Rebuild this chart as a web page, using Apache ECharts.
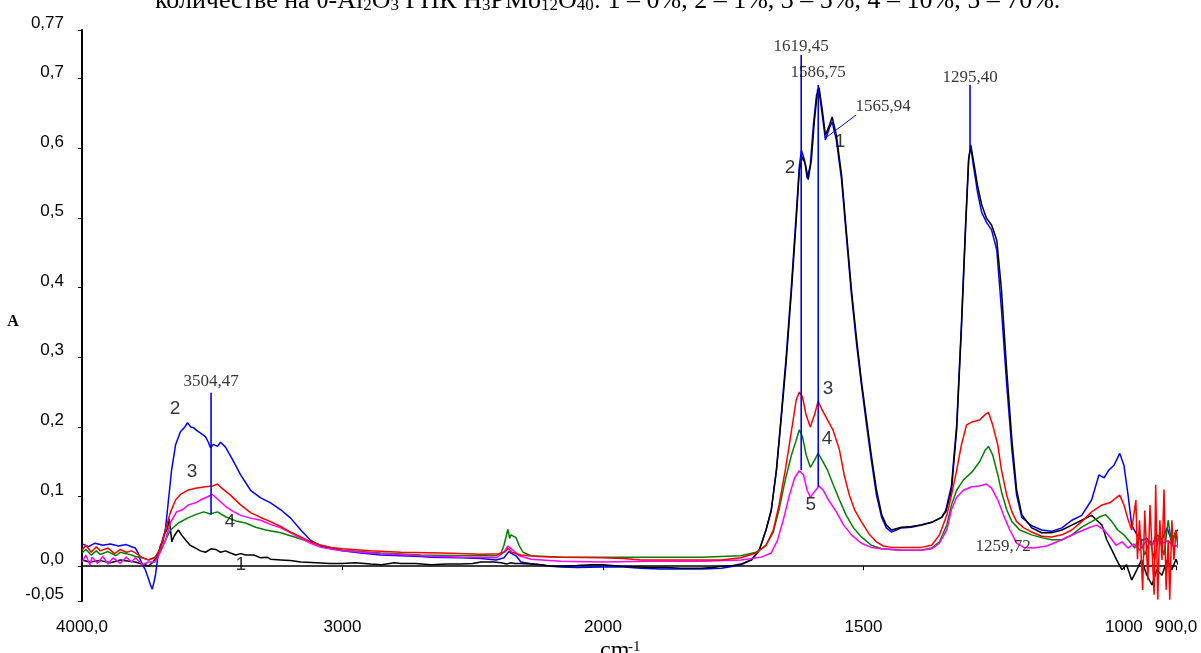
<!DOCTYPE html>
<html>
<head>
<meta charset="utf-8">
<script src="https://cdn.jsdelivr.net/npm/echarts@6/dist/echarts.min.js"></script>
<style>html,body{margin:0;padding:0;background:#fff;}#c{width:1201px;height:653px;}</style>
</head>
<body>
<div id="c"></div>
<script>
// ---- axis ticks ----
const xTicks = [4000, 3000, 2000, 1500, 1000, 900];
const xTickLabels = ['4000,0', '3000', '2000', '1500', '1000', '900,0'];
const yTicks = [-0.05, 0, 0.1, 0.2, 0.3, 0.4, 0.5, 0.6, 0.7, 0.77];
const yTickLabels = ['-0,05', '0,0', '0,1', '0,2', '0,3', '0,4', '0,5', '0,6', '0,7', '0,77'];

// ---- spectra: [wavenumber cm-1, absorbance] ----
const curve1 = [[4000,.009],[3970,.006],[3930,.008],[3890,.005],[3853,.009],[3820,.007],[3795,.006],[3770,.003],[3757,.002],[3745,0],[3730,.005],[3715,.012],[3700,.026],[3685,.045],[3672,.054],[3665,.068],[3660,.066],[3655,.035],[3648,.042],[3638,.048],[3630,.052],[3618,.045],[3603,.038],[3585,.03],[3564,.026],[3545,.022],[3526,.02],[3505,.025],[3487,.024],[3468,.02],[3449,.022],[3430,.019],[3410,.016],[3390,.018],[3372,.016],[3340,.016],[3314,.012],[3290,.013],[3276,.01],[3237,.009],[3200,.008],[3160,.006],[3100,.005],[3050,.004],[3000,.004],[2950,.005],[2892,.003],[2850,.002],[2800,.005],[2776,.004],[2720,.004],[2660,.002],[2600,.003],[2545,.003],[2500,.004],[2468,.006],[2420,.006],[2391,.005],[2370,.003],[2353,.005],[2340,.004],[2315,.004],[2280,.003],[2238,.002],[2200,0],[2161,0],[2100,.001],[2046,.002],[2000,.002],[1965,0],[1930,-.001],[1908,-.002],[1880,-.002],[1850,-.003],[1812,-.003],[1790,-.002],[1773,0],[1750,.001],[1735,.003],[1715,.009],[1700,.023],[1687,.052],[1677,.08],[1667,.138],[1658,.21],[1648,.296],[1638,.397],[1629,.497],[1623,.569],[1617,.588],[1611,.576],[1606,.555],[1600,.583],[1594,.641],[1588,.684],[1585,.687],[1579,.655],[1573,.619],[1565,.634],[1560,.645],[1552,.619],[1542,.562],[1533,.483],[1523,.397],[1513,.325],[1504,.267],[1494,.21],[1485,.16],[1475,.11],[1465,.074],[1456,.059],[1446,.052],[1427,.056],[1408,.057],[1389,.059],[1369,.063],[1350,.07],[1342,.078],[1331,.109],[1321,.196],[1312,.339],[1304,.483],[1298,.583],[1294,.605],[1289,.583],[1281,.547],[1273,.519],[1264,.5],[1254,.49],[1244,.468],[1235,.397],[1225,.282],[1215,.181],[1206,.11],[1196,.074],[1177,.055],[1158,.048],[1139,.048],[1119,.052],[1100,.059],[1081,.066],[1062,.073],[1052,.066],[1042,.059],[1033,.038],[1023,.023],[1014,.009],[1004,-.005],[995,.002],[985,-.02],[975,-.005],[966,.009],[956,-.013],[946,-.027],[937,-.005],[927,-.013],[917,.009],[908,-.005],[900,.01],[896,.002]];
const curve2 = [[4000,.032],[3975,.028],[3950,.033],[3920,.03],[3891,.032],[3860,.029],[3830,.031],[3810,.028],[3795,.026],[3783,.018],[3776,.009],[3765,0],[3757,-.005],[3745,-.018],[3737,-.027],[3730,-.033],[3722,-.02],[3718,-.013],[3710,.01],[3699,.03],[3690,.035],[3680,.052],[3668,.095],[3656,.138],[3641,.174],[3622,.193],[3605,.2],[3595,.206],[3583,.2],[3572,.199],[3560,.195],[3545,.191],[3526,.186],[3515,.178],[3507,.17],[3495,.175],[3480,.172],[3468,.178],[3449,.171],[3422,.153],[3391,.131],[3353,.109],[3314,.098],[3276,.091],[3237,.081],[3199,.069],[3160,.052],[3122,.037],[3083,.029],[3045,.025],[3000,.022],[2930,.019],[2853,.016],[2776,.015],[2700,.014],[2660,.013],[2545,.012],[2468,.011],[2410,.009],[2380,.012],[2372,.016],[2360,.021],[2353,.02],[2345,.017],[2334,.015],[2315,.006],[2280,.004],[2238,.002],[2200,0],[2161,-.001],[2100,-.002],[2005,-.001],[1960,-.001],[1927,-.003],[1890,-.004],[1850,-.004],[1810,-.004],[1773,-.003],[1750,0],[1735,.002],[1715,.009],[1700,.023],[1687,.052],[1677,.08],[1667,.138],[1658,.215],[1648,.304],[1638,.405],[1629,.506],[1623,.575],[1619,.597],[1613,.583],[1608,.557],[1602,.576],[1596,.634],[1590,.677],[1585,.681],[1579,.648],[1573,.612],[1565,.63],[1560,.638],[1552,.612],[1542,.555],[1533,.476],[1523,.39],[1513,.318],[1504,.261],[1494,.203],[1485,.153],[1475,.102],[1465,.07],[1456,.055],[1446,.049],[1427,.055],[1408,.056],[1389,.059],[1369,.063],[1350,.07],[1342,.08],[1331,.116],[1321,.203],[1312,.346],[1304,.49],[1298,.586],[1294,.602],[1289,.576],[1281,.537],[1273,.508],[1264,.494],[1254,.483],[1244,.454],[1235,.368],[1225,.261],[1215,.167],[1206,.102],[1196,.07],[1177,.058],[1158,.052],[1139,.05],[1119,.055],[1100,.066],[1081,.073],[1062,.095],[1048,.131],[1038,.127],[1029,.138],[1019,.145],[1008,.162],[1000,.145],[992,.102],[985,.059],[975,.045],[966,.037],[956,.04],[946,.03],[937,.045],[927,.038],[917,.055],[908,.035],[900,.05],[896,.052]];
const curve3 = [[4000,.023],[3985,.03],[3965,.02],[3945,.028],[3930,.022],[3900,.026],[3875,.018],[3853,.024],[3830,.02],[3810,.022],[3795,.019],[3780,.015],[3768,.012],[3745,.009],[3720,.012],[3699,.026],[3680,.052],[3660,.078],[3641,.095],[3622,.103],[3595,.109],[3564,.112],[3526,.114],[3499,.115],[3480,.118],[3460,.111],[3430,.102],[3391,.088],[3353,.077],[3314,.07],[3276,.064],[3237,.057],[3199,.049],[3160,.042],[3122,.035],[3083,.03],[3045,.027],[3000,.025],[2892,.022],[2776,.02],[2622,.019],[2468,.017],[2391,.018],[2372,.022],[2365,.026],[2350,.02],[2315,.016],[2250,.014],[2161,.013],[2005,.012],[1960,.011],[1927,.009],[1850,.009],[1773,.009],[1735,.012],[1706,.019],[1687,.03],[1673,.052],[1662,.088],[1650,.138],[1638,.195],[1629,.239],[1623,.25],[1617,.243],[1610,.217],[1602,.2],[1594,.217],[1587,.237],[1579,.224],[1569,.21],[1558,.195],[1546,.167],[1537,.131],[1527,.102],[1517,.081],[1504,.064],[1488,.045],[1475,.035],[1462,.029],[1446,.027],[1427,.027],[1389,.027],[1369,.03],[1354,.045],[1340,.073],[1331,.102],[1321,.138],[1312,.174],[1302,.203],[1292,.207],[1277,.21],[1266,.218],[1260,.221],[1252,.203],[1242,.174],[1235,.138],[1225,.102],[1215,.078],[1206,.064],[1192,.055],[1177,.049],[1158,.043],[1139,.042],[1119,.045],[1100,.052],[1081,.064],[1062,.078],[1042,.088],[1027,.091],[1015,.098],[1008,.102],[1000,.088],[992,.067],[985,.052],[977,.095],[974,.01],[970,.066],[964,-.034],[960,.08],[954,-.02],[950,.088],[946,.023],[942,-.041],[939,.117],[935,-.048],[931,.066],[927,.009],[923,.11],[919,-.034],[915,.037],[912,-.048],[908,.066],[904,.009],[900,.052],[896,.03]];
const curve4 = [[4000,.019],[3985,.024],[3965,.016],[3945,.022],[3930,.017],[3900,.021],[3870,.015],[3853,.02],[3830,.018],[3810,.016],[3795,.014],[3768,.012],[3745,.009],[3720,.013],[3699,.023],[3680,.037],[3660,.052],[3630,.062],[3595,.069],[3564,.074],[3533,.078],[3507,.075],[3480,.078],[3449,.071],[3410,.065],[3372,.062],[3333,.056],[3295,.052],[3237,.048],[3160,.039],[3083,.03],[3000,.023],[2853,.019],[2699,.016],[2545,.015],[2410,.015],[2390,.02],[2380,.03],[2365,.053],[2358,.04],[2353,.045],[2334,.041],[2322,.03],[2307,.02],[2276,.015],[2161,.013],[2005,.013],[1908,.013],[1812,.013],[1735,.015],[1706,.02],[1687,.03],[1673,.049],[1662,.081],[1650,.124],[1638,.16],[1629,.181],[1623,.196],[1617,.186],[1610,.16],[1602,.142],[1594,.152],[1587,.162],[1579,.152],[1569,.138],[1558,.117],[1546,.095],[1533,.073],[1519,.055],[1504,.042],[1485,.03],[1465,.025],[1427,.023],[1389,.023],[1369,.026],[1354,.035],[1340,.059],[1331,.088],[1321,.109],[1308,.124],[1292,.135],[1277,.15],[1266,.167],[1260,.172],[1252,.16],[1242,.131],[1235,.107],[1225,.081],[1215,.064],[1200,.052],[1177,.045],[1158,.041],[1139,.038],[1119,.038],[1100,.045],[1081,.056],[1062,.064],[1046,.071],[1035,.074],[1023,.064],[1012,.052],[1000,.045],[989,.035],[979,.026],[970,.045],[960,.016],[950,.037],[941,.009],[933,.045],[923,.016],[915,.066],[908,.03],[900,.052],[896,.026]];
const curve5 = [[4000,.006],[3985,.016],[3970,.002],[3961,.013],[3940,.004],[3920,.014],[3900,.003],[3880,.012],[3853,.004],[3830,.013],[3810,.006],[3795,.012],[3768,.002],[3745,.006],[3720,.006],[3699,.02],[3680,.037],[3660,.063],[3637,.078],[3614,.081],[3591,.088],[3564,.091],[3545,.095],[3522,.099],[3499,.103],[3476,.095],[3449,.086],[3422,.079],[3391,.073],[3353,.069],[3314,.066],[3276,.06],[3237,.055],[3199,.048],[3160,.04],[3122,.033],[3083,.027],[3000,.022],[2853,.018],[2699,.015],[2545,.013],[2410,.012],[2380,.02],[2365,.029],[2346,.023],[2322,.015],[2276,.01],[2161,.007],[2005,.006],[1908,.007],[1812,.007],[1735,.009],[1696,.013],[1677,.019],[1665,.037],[1654,.066],[1642,.102],[1632,.127],[1623,.137],[1615,.131],[1608,.109],[1602,.099],[1594,.107],[1585,.115],[1577,.109],[1567,.095],[1552,.078],[1538,.059],[1523,.045],[1504,.033],[1485,.027],[1465,.025],[1427,.023],[1389,.023],[1369,.025],[1354,.033],[1340,.052],[1331,.081],[1321,.099],[1308,.109],[1292,.114],[1277,.115],[1264,.118],[1254,.112],[1242,.095],[1231,.073],[1219,.052],[1206,.033],[1192,.027],[1173,.026],[1148,.029],[1119,.038],[1090,.048],[1065,.056],[1052,.059],[1038,.052],[1027,.042],[1015,.03],[1004,.035],[992,.026],[981,.032],[970,.023],[956,.037],[946,.03],[937,.04],[927,.032],[915,.037],[905,.028],[896,.03]];

// ---- peak markers ----
const peakWn = [3504.47, 1619.45, 1586.75, 1295.40];
const peakLineTop = [0.249, 0.734, 0.691, 0.691];
const peakLineBottom = [0.074, 0.138, 0.114, 0.600];
const pointerLine = [[1514, 0.648], [1569, 0.617]];
const peakTexts = [['3504,47', 3504.47, 0.265], ['1619,45', 1619.45, 0.746], ['1586,75', 1587, 0.709], ['1565,94', 1462, 0.660], ['1295,40', 1295.4, 0.702], ['1259,72', 1232, 0.028]];
const curveNumbers = [['2', 3643, 0.226], ['3', 3578, 0.135], ['4', 3432, 0.064], ['1', 3390, 0.002], ['2', 1641, 0.572], ['1', 1545, 0.609], ['3', 1568, 0.255], ['4', 1570, 0.183], ['5', 1601, 0.088]];

// piecewise wavenumber scale: 4000-2000 compressed, 2000-900 expanded x2
const toU = w => (w >= 2000 ? 4000 - w : 2000 + 2 * (2000 - w));
const conv = arr => arr.map(p => [toU(p[0]), p[1]]);

const chart = echarts.init(document.getElementById('c'), null, { renderer: 'canvas' });

const lineSeries = (name, data, color, z) => ({
  name, type: 'line', data: conv(data), showSymbol: false, symbol: 'none',
  lineStyle: { color, width: 1.5 }, itemStyle: { color }, z, animation: false, silent: true
});

const markerSeries = [];
peakWn.forEach((w, i) => {
  markerSeries.push({
    type: 'line', data: [[toU(w), peakLineTop[i]], [toU(w), peakLineBottom[i]]],
    showSymbol: false, symbol: 'none', lineStyle: { color: '#0000ff', width: 1.6 }, z: 10, animation: false, silent: true
  });
});
markerSeries.push({
  type: 'line', data: conv(pointerLine), showSymbol: false, symbol: 'none',
  lineStyle: { color: '#0000ff', width: 1 }, z: 10, animation: false, silent: true
});

const option = {
  backgroundColor: '#ffffff',
  animation: false,
  grid: { left: 82, right: 25, top: 30, bottom: 52 },
  xAxis: {
    type: 'value', min: 0, max: 4200,
    axisLine: { show: true, lineStyle: { color: '#000', width: 1.5 } },
    axisTick: { show: true, length: 4, lineStyle: { color: '#000', width: 1 }, customValues: xTicks.map(toU) },
    axisLabel: {
      customValues: xTicks.map(toU), margin: 18, color: '#000',
      fontFamily: 'Liberation Sans', fontSize: 17,
      formatter: v => { const i = xTicks.findIndex(t => Math.abs(toU(t) - v) < 1e-6); return i >= 0 ? xTickLabels[i] : ''; }
    },
    splitLine: { show: false }
  },
  yAxis: {
    type: 'value', min: -0.05, max: 0.77,
    axisLine: { show: true, lineStyle: { color: '#000', width: 2 } },
    axisTick: { show: true, length: 4, lineStyle: { color: '#000', width: 1 }, customValues: yTicks },
    axisLabel: {
      customValues: yTicks, margin: 18, color: '#000',
      fontFamily: 'Liberation Sans', fontSize: 17, verticalAlign: 'bottom', lineHeight: 13,
      formatter: v => { const i = yTicks.findIndex(t => Math.abs(t - v) < 1e-6); return i >= 0 ? yTickLabels[i] : ''; }
    },
    splitLine: { show: false }
  },
  series: [
    lineSeries('2', curve2, '#0000ff', 2),
    lineSeries('1', curve1, '#000000', 3),
    lineSeries('4', curve4, '#008000', 4),
    lineSeries('5', curve5, '#ff00ff', 5),
    lineSeries('3', curve3, '#ff0000', 6),
    ...markerSeries,
    {
      type: 'scatter', symbolSize: 0, z: 20, silent: true, animation: false,
      data: peakTexts.map(p => ({ value: [toU(p[1]), p[2]], name: p[0] })),
      label: { show: true, position: 'inside', formatter: p => p.name, color: '#000', fontFamily: 'Liberation Serif', fontSize: 17 }
    },
    {
      type: 'scatter', symbolSize: 0, z: 20, silent: true, animation: false,
      data: curveNumbers.map(p => ({ value: [toU(p[1]), p[2]], name: p[0] })),
      label: { show: true, position: 'inside', formatter: p => p.name, color: '#000', fontFamily: 'Liberation Sans', fontSize: 19 }
    }
  ],
  graphic: [
    {
      type: 'text', x: 155, y: 1, silent: true,
      style: {
        text: 'количестве на θ-Al{s|2}O{s|3} ГПК H{s|3}PMo{s|12}O{s|40}: 1 – 0%, 2 – 1%, 3 – 5%, 4 – 10%, 5 – 70%.',
        fontFamily: 'Liberation Serif', fontSize: 26, fill: '#000', verticalAlign: 'middle',
        rich: { s: { fontFamily: 'Liberation Serif', fontSize: 17, lineHeight: 10, verticalAlign: 'bottom' } }
      }
    },
    {
      type: 'text', x: 13, y: 322, silent: true,
      style: { text: 'A', fontFamily: 'Liberation Serif', fontWeight: 'bold', fontSize: 16, fill: '#000', align: 'center', verticalAlign: 'middle' }
    },
    {
      type: 'text', x: 600, y: 651, silent: true,
      style: { text: 'cm', fontFamily: 'Liberation Serif', fontSize: 24, fill: '#000', verticalAlign: 'middle' }
    },
    {
      type: 'text', x: 628, y: 647, silent: true,
      style: { text: '-1', fontFamily: 'Liberation Serif', fontSize: 15, fill: '#000', verticalAlign: 'middle' }
    }
  ]
};
chart.setOption(option);
</script>
</body>
</html>
